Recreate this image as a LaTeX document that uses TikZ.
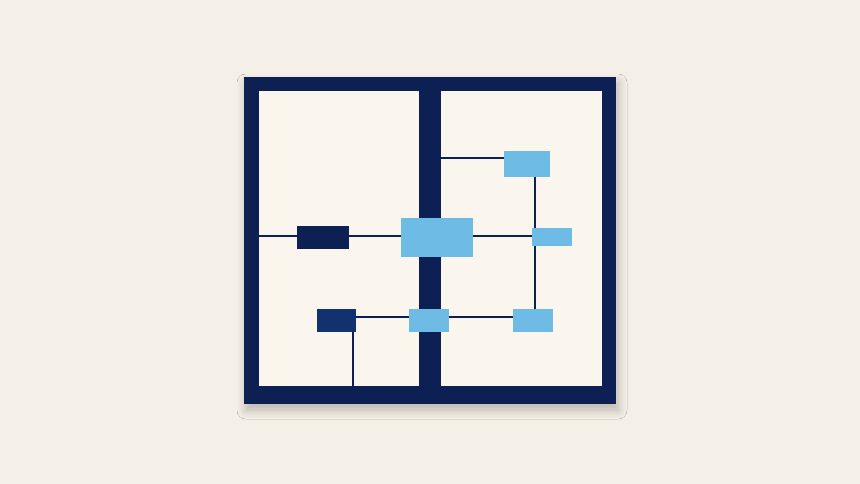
\documentclass[tikz,border=0pt]{standalone}
\usetikzlibrary{shadows.blur}
\definecolor{navy}{RGB}{12,32,84}
\definecolor{navyb}{RGB}{18,50,110}
\definecolor{skyblue}{RGB}{110,188,230}
\definecolor{paper}{RGB}{245,240,231}
\definecolor{panel}{RGB}{250,246,238}
\tikzset{
  darkbox/.style={rectangle,fill=navy,inner sep=0pt},
  lightbox/.style={rectangle,fill=skyblue,inner sep=0pt},
  wire/.style={navy,line width=2pt}
}
\begin{document}
\begin{tikzpicture}[x=1pt,y=-1pt]
\fill[paper] (0,0) rectangle (860,484);
\useasboundingbox (0,0) rectangle (860,484);
% Draw the frame
\fill[navy,blur shadow={shadow xshift=2pt,shadow yshift=-6pt,shadow blur radius=9pt,shadow blur steps=12,shadow opacity=25}] (244,77) rectangle (616,404);
\fill[panel] (259,91) rectangle (602,386);
\fill[navy] (419,91) rectangle (441,386);
% Draw the blocks
\node[darkbox,minimum width=52pt,minimum height=23pt] (ctrl) at (323,237) {};
\node[lightbox,minimum width=72pt,minimum height=39pt] (hub) at (437,237) {};
\node[lightbox,minimum width=46pt,minimum height=26pt] (upper) at (527,164) {};
\node[lightbox,minimum width=40pt,minimum height=18pt] (side) at (552,237) {};
\node[lightbox,minimum width=40pt,minimum height=23pt] (lowr) at (533,320.5) {};
\node[lightbox,minimum width=40pt,minimum height=23pt] (lowm) at (429,320.5) {};
\node[darkbox,fill=navyb,minimum width=39pt,minimum height=23pt] (feed) at (336.5,320.5) {};
% Draw the wires
\coordinate (inL) at (259,236);
\coordinate (divR) at (441,158);
\coordinate (vx) at (535,0);
\coordinate (dx) at (353,0);
\coordinate (inB) at (353,386);
\coordinate (by) at (0,317);
\draw[wire] (inL) -- (inL -| ctrl.west);
\draw[wire] (ctrl.east |- inL) -- (hub.west |- inL);
\draw[wire] (hub.east |- inL) -- (side.west |- inL);
\draw[wire] (divR) -- (divR -| upper.west);
\draw[wire] (upper.south -| vx) -- (side.north -| vx);
\draw[wire] (side.south -| vx) -- (lowr.north -| vx);
\draw[wire] (feed.east |- by) -- (lowm.west |- by);
\draw[wire] (lowm.east |- by) -- (lowr.west |- by);
\draw[wire] (feed.south -| dx) -- (inB);
\end{tikzpicture}
\end{document}
